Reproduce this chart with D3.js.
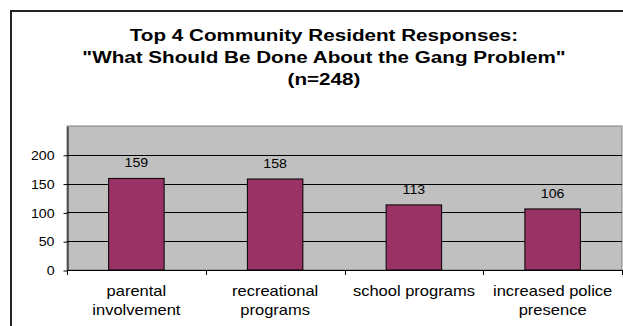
<!DOCTYPE html>
<html>
<head>
<meta charset="utf-8">
<script src="https://cdn.jsdelivr.net/npm/d3@7"></script>
<style>
  body { margin: 0; background: #fff; }
  svg { display: block; font-family: "Liberation Sans", Arial, sans-serif; }
</style>
</head>
<body>
<svg id="drawing_region"></svg>
<script>
var Categories = [['parental', 'involvement'], ['recreational', 'programs'], ['school programs'], ['increased police', 'presence']];
var Values = [159, 158, 113, 106];
var YTicks = [0, 50, 100, 150, 200];
var TitleLines = ['Top 4 Community Resident Responses:', '"What Should Be Done About the Gang Problem"', '(n=248)'];

var Config = {
    parent: '#drawing_region',
    width: 623,
    height: 326,
    plot: { left: 67, top: 126, right: 622, bottom: 270 },
    stretch: 1.18,
    titleStretch: 1.215
};

class BarChart {
    constructor(config) {
        this.config = config;
        this.init();
    }

    init() {
        let self = this;
        self.svg = d3.select(self.config.parent)
            .attr('width', self.config.width)
            .attr('height', self.config.height);

        let p = self.config.plot;
        self.xScale = d3.scaleBand()
            .domain(d3.range(Values.length))
            .range([p.left, p.right])
            .paddingInner(0.6)
            .paddingOuter(0.3);
        self.yScale = d3.scaleLinear()
            .domain([0, 250])
            .range([p.bottom, p.top]);
    }

    // text drawn a bit wider, like the stretched original
    stretchText(sel, x, k) {
        sel.attr('x', 0).attr('transform', `translate(${x},0) scale(${k || this.config.stretch},1)`);
    }

    update() {
        let self = this;
        let p = self.config.plot;
        let k = self.config.stretch;

        // outer frame
        self.svg.append('rect')
            .attr('x', 11).attr('y', 11)
            .attr('width', 640).attr('height', 340)
            .attr('fill', 'none')
            .attr('stroke', '#222')
            .attr('stroke-width', 2);

        // title
        self.svg.append('g').selectAll('text')
            .data(TitleLines)
            .join('text')
            .attr('y', (d, i) => 41 + i * 22)
            .attr('text-anchor', 'middle')
            .attr('font-size', 17)
            .attr('font-weight', 'bold')
            .attr('fill', '#000')
            .text(d => d)
            .each(function () { self.stretchText(d3.select(this), 324, self.config.titleStretch); });

        // plot area
        self.svg.append('rect')
            .attr('x', p.left).attr('y', p.top)
            .attr('width', p.right - p.left).attr('height', p.bottom - p.top)
            .attr('fill', '#c0c0c0')
            .attr('stroke', '#808080')
            .attr('stroke-width', 1);

        // gridlines
        self.svg.append('g').selectAll('line')
            .data(YTicks.filter(d => d > 0))
            .join('line')
            .attr('x1', p.left).attr('x2', p.right)
            .attr('y1', d => Math.round(self.yScale(d)) + 0.5)
            .attr('y2', d => Math.round(self.yScale(d)) + 0.5)
            .attr('stroke', '#000')
            .attr('stroke-width', 1);

        // y axis
        let yAxis = d3.axisLeft(self.yScale).tickValues(YTicks).tickSize(4).tickSizeOuter(0).tickPadding(9);
        let yg = self.svg.append('g')
            .attr('transform', `translate(${p.left + 0.5},0.5)`)
            .call(yAxis);
        yg.select('.domain').attr('stroke', '#000');
        yg.selectAll('text')
            .attr('font-size', 12)
            .attr('font-family', '"Liberation Sans", Arial, sans-serif')
            .attr('fill', '#000')
            .attr('dy', '0.35em')
            .each(function () {
                d3.select(this).attr('transform', `translate(-13,0) scale(${k},1)`).attr('x', 0);
            });

        // bars
        self.svg.append('g').selectAll('rect')
            .data(Values)
            .join('rect')
            .attr('x', (d, i) => self.xScale(i))
            .attr('y', d => self.yScale(d))
            .attr('width', self.xScale.bandwidth())
            .attr('height', d => p.bottom - self.yScale(d))
            .attr('fill', '#993366')
            .attr('stroke', '#000')
            .attr('stroke-width', 1);

        // value labels
        self.svg.append('g').selectAll('text')
            .data(Values)
            .join('text')
            .attr('y', d => self.yScale(d) - 11)
            .attr('text-anchor', 'middle')
            .attr('font-size', 12)
            .attr('fill', '#000')
            .text(d => d)
            .each(function (d, i) {
                self.stretchText(d3.select(this), self.xScale(i) + self.xScale.bandwidth() / 2);
            });

        // x axis line and category tick marks
        let step = self.xScale.step();
        let bounds = d3.range(Values.length + 1).map(i => p.left + i * step);
        let xg = self.svg.append('g');
        xg.append('line')
            .attr('x1', p.left).attr('x2', p.right)
            .attr('y1', p.bottom + 0.5).attr('y2', p.bottom + 0.5)
            .attr('stroke', '#000');
        xg.selectAll('line.tick')
            .data(bounds)
            .join('line')
            .attr('class', 'tick')
            .attr('x1', d => Math.round(d) + 0.5).attr('x2', d => Math.round(d) + 0.5)
            .attr('y1', p.bottom).attr('y2', p.bottom + 5)
            .attr('stroke', '#000');

        // category labels
        Categories.forEach(function (lines, i) {
            xg.append('g').selectAll('text')
                .data(lines)
                .join('text')
                .attr('y', (d, j) => 296 + j * 19)
                .attr('text-anchor', 'middle')
                .attr('font-size', 14)
                .attr('fill', '#000')
                .text(d => d)
                .each(function () {
                    self.stretchText(d3.select(this), self.xScale(i) + self.xScale.bandwidth() / 2);
                });
        });
    }
}

const bar_chart = new BarChart(Config);
bar_chart.update();
</script>
</body>
</html>
